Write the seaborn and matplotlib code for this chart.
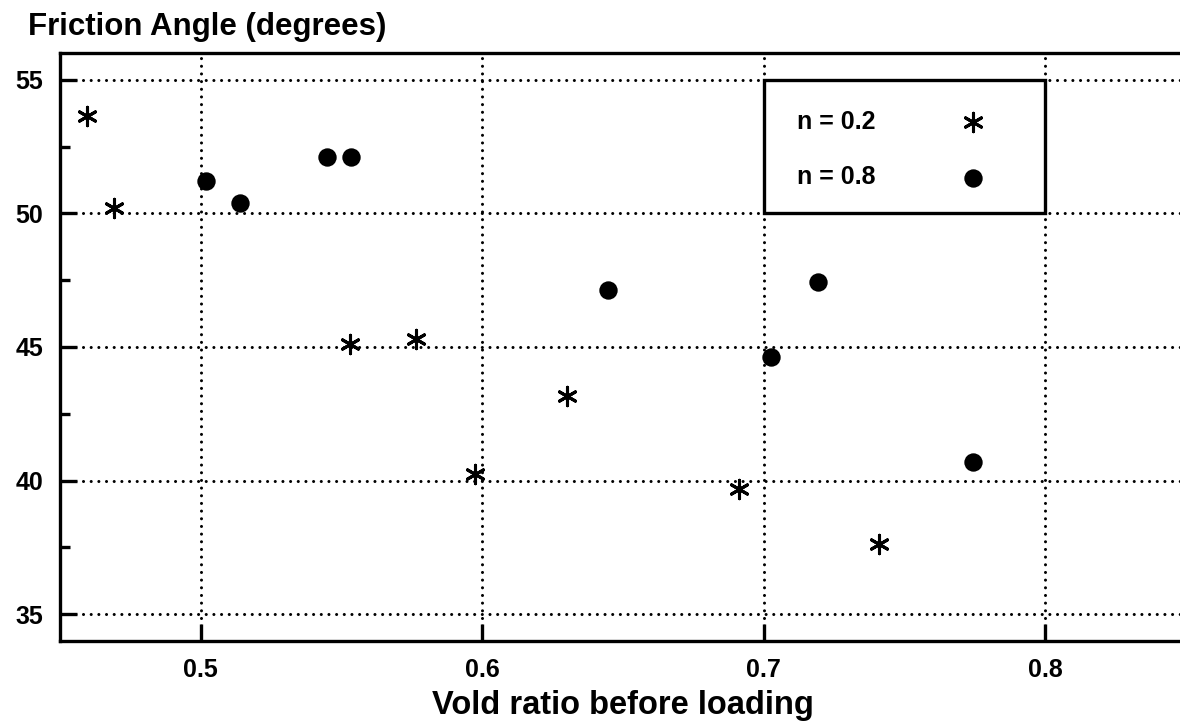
import matplotlib
matplotlib.use("Agg")
import matplotlib.pyplot as plt
from matplotlib.patches import Rectangle
from matplotlib.ticker import MultipleLocator
import seaborn as sns
import pandas as pd

# Void ratio before loading vs. friction angle, for two exponents n
void_n02 = [0.4595, 0.4692, 0.5529, 0.5763, 0.6302, 0.5974, 0.6913, 0.7411]
phi_n02 = [53.65, 50.19, 45.10, 45.29, 43.16, 40.24, 39.67, 37.62]

void_n08 = [0.5018, 0.5140, 0.5447, 0.5535, 0.6448, 0.7027, 0.7194, 0.7744]
phi_n08 = [51.22, 50.40, 52.10, 52.10, 47.13, 44.64, 47.42, 40.69]

series_labels = ["n = 0.2", "n = 0.8"]
x_ticks = [0.5, 0.6, 0.7, 0.8]
y_ticks = [35, 40, 45, 50, 55]

sns.set_style("white")
plt.rcParams["font.family"] = ["Liberation Sans", "DejaVu Sans"]
plt.rcParams["font.weight"] = "bold"
plt.rcParams["text.color"] = "black"
plt.rcParams["axes.labelcolor"] = "black"
plt.rcParams["xtick.color"] = "black"
plt.rcParams["ytick.color"] = "black"

W, H = 1180, 722
fig = plt.figure(figsize=(W / 100, H / 100), dpi=100)
ax = fig.add_axes([60 / W, 81 / H, 1126 / W, 588 / H])

df02 = pd.DataFrame({"void": void_n02, "phi": phi_n02})
df08 = pd.DataFrame({"void": void_n08, "phi": phi_n08})

sns.scatterplot(data=df02, x="void", y="phi", ax=ax, marker=(6, 2, 0), s=175,
                color="black", edgecolor="black", linewidth=2.2,
                label=series_labels[0], zorder=4)
sns.scatterplot(data=df08, x="void", y="phi", ax=ax, marker="o", s=175,
                color="black", edgecolor="black", linewidth=0,
                label=series_labels[1], zorder=4)

ax.set_xlim(0.45, 0.85)
ax.set_ylim(34, 56)
ax.set_xticks(x_ticks)
ax.set_xticklabels([f"{v:.1f}" for v in x_ticks])
ax.set_yticks(y_ticks)
ax.set_yticklabels([str(v) for v in y_ticks])
ax.yaxis.set_minor_locator(MultipleLocator(2.5))
ax.set_xlabel("Vold ratio before loading", fontsize=23.5, fontweight="bold",
              color="black", labelpad=6)
ax.set_ylabel("")

ax.grid(True, which="major", color="black", linestyle=(0, (0.01, 2.5)),
        linewidth=2.2, dash_capstyle="round", zorder=1)
ax.set_axisbelow(True)

for side in ["left", "bottom", "top", "right"]:
    ax.spines[side].set_visible(True)
    ax.spines[side].set_color("black")
    ax.spines[side].set_linewidth(2.4)

ax.tick_params(axis="both", which="major", direction="in", length=12, width=2.4,
               color="black", labelcolor="black", labelsize=18, pad=12,
               bottom=True, left=True)
ax.tick_params(axis="y", which="minor", direction="in", length=7, width=2.4,
               color="black", left=True)
ax.tick_params(axis="x", which="both", top=False)
ax.tick_params(axis="y", which="both", right=False)
for lbl in ax.get_xticklabels() + ax.get_yticklabels():
    lbl.set_fontweight("bold")

# Legend box spanning one grid cell
ax.add_patch(Rectangle((0.7, 50), 0.1, 5, fill=True, facecolor="white",
                       edgecolor="black", linewidth=2.4, zorder=3))
leg = ax.legend(loc="upper left", bbox_to_anchor=(0.7118, 53.87),
                bbox_transform=ax.transData, frameon=False, markerfirst=False,
                fontsize=18, handletextpad=2.9, handlelength=2.0,
                labelspacing=1.26, borderpad=0, borderaxespad=0)
leg.set_zorder(5)
for t in leg.get_texts():
    t.set_fontweight("bold")
    t.set_color("black")

fig.text(28 / W, 1 - 27 / H, "Friction Angle (degrees)", fontsize=22.5,
         fontweight="bold", color="black", ha="left", va="center")

fig.savefig("out.png", dpi=100, facecolor="white")
